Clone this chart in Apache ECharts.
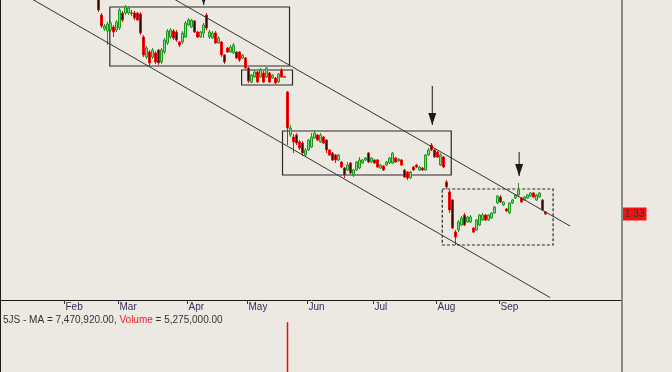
<!DOCTYPE html>
<html><head><meta charset="utf-8">
<script src="https://cdn.jsdelivr.net/npm/echarts@6/dist/echarts.min.js"></script>
<style>html,body{margin:0;padding:0;background:#ece9e3;}#c{width:672px;height:372px;}</style>
</head><body><div id="c"></div>
<script>
// ---- axis slots (trading days) and month tick labels ----
const slotCount = 207;
const monthNames = ['Feb','Mar','Apr','May','Jun','Jul','Aug','Sep'];
const monthSlots = [21, 39, 62, 82, 102, 124, 145, 166];

// ---- OHLC data, first candle at slot 32 ----
const firstSlot = 32;
const open = [
 2.425,2.325,2.255,2.245,2.25,2.265,2.25,2.26,2.335,2.335,
 2.335,2.336,2.335,2.335,2.33,2.215,2.115,2.14,2.115,2.135,
 2.15,2.09,2.14,2.185,2.215,2.245,2.24,2.19,2.19,2.215,
 2.275,2.265,2.295,2.24,2.215,2.235,2.325,2.215,2.21,2.235,
 2.185,2.19,2.125,2.16,2.14,2.135,2.14,2.14,2.11,2.11,
 2.06,1.99,2.015,2.04,2.015,2.035,2.015,2.035,2.01,2.01,
 1.99,2.05,2.016,
 1.94,1.725,1.715,1.725,1.69,1.685,1.625,1.65,1.665,1.71,
 1.725,1.69,1.715,1.70,1.65,1.635,1.625,1.60,1.59,1.56,
 1.55,1.585,1.525,1.55,1.56,1.585,1.60,1.635,1.59,1.60,
 1.60,1.56,1.57,1.575,1.585,1.585,1.61,1.595,1.60,1.55,
 1.54,1.51,1.565,1.575,1.55,1.56,1.55,1.625,1.675,1.65,
 1.64,1.575,1.615,
 1.49,1.44,1.40,1.24,1.25,1.275,1.325,1.29,1.29,1.26,
 1.25,1.275,1.30,1.325,1.30,1.31,1.335,1.385,1.415,1.375,
 1.355,1.335,1.385,1.41,1.425,1.41,1.40,1.41,1.42,1.435,
 1.40,1.415,1.40,1.34];
const close = [
 2.35,2.27,2.27,2.28,2.285,2.24,2.29,2.35,2.30,2.365,
 2.36,2.334,2.31,2.30,2.235,2.125,2.16,2.085,2.15,2.09,
 2.085,2.15,2.20,2.245,2.25,2.21,2.20,2.175,2.235,2.285,
 2.30,2.30,2.24,2.215,2.24,2.275,2.26,2.24,2.235,2.185,
 2.21,2.125,2.09,2.14,2.165,2.175,2.11,2.10,2.125,2.06,
 1.995,2.025,2.04,1.99,2.05,1.99,2.06,1.99,2.025,1.985,
 2.03,2.015,2.014,
 1.76,1.76,1.69,1.685,1.66,1.635,1.65,1.70,1.715,1.735,
 1.70,1.725,1.685,1.65,1.625,1.60,1.60,1.625,1.565,1.525,
 1.575,1.535,1.55,1.59,1.60,1.60,1.61,1.59,1.61,1.585,
 1.565,1.575,1.55,1.59,1.61,1.635,1.59,1.605,1.575,1.515,
 1.51,1.54,1.55,1.565,1.565,1.55,1.625,1.65,1.65,1.615,
 1.615,1.625,1.565,
 1.465,1.35,1.26,1.215,1.29,1.31,1.275,1.315,1.315,1.24,
 1.30,1.325,1.325,1.30,1.325,1.335,1.365,1.42,1.39,1.39,
 1.345,1.385,1.40,1.425,1.45,1.39,1.415,1.425,1.435,1.415,
 1.425,1.435,1.35,1.33];
const low = [
 2.34,2.26,2.245,2.175,2.24,2.215,2.24,2.25,2.29,2.325,
 2.325,2.32,2.30,2.295,2.225,2.115,2.105,2.065,2.105,2.08,
 2.075,2.08,2.13,2.175,2.205,2.20,2.19,2.165,2.18,2.21,
 2.27,2.26,2.235,2.21,2.21,2.21,2.25,2.205,2.205,2.18,
 2.18,2.115,2.08,2.135,2.135,2.13,2.105,2.09,2.105,2.055,
 1.985,1.985,2.01,1.985,2.01,1.985,2.01,1.985,2.005,1.98,
 1.985,2.01,2.01,
 1.675,1.715,1.635,1.675,1.65,1.62,1.615,1.645,1.66,1.705,
 1.695,1.685,1.68,1.635,1.62,1.595,1.585,1.595,1.56,1.51,
 1.545,1.53,1.515,1.545,1.555,1.58,1.595,1.585,1.585,1.58,
 1.56,1.555,1.545,1.57,1.58,1.58,1.585,1.59,1.57,1.51,
 1.50,1.505,1.545,1.56,1.545,1.545,1.545,1.62,1.645,1.61,
 1.61,1.57,1.56,
 1.455,1.335,1.255,1.175,1.24,1.27,1.27,1.285,1.285,1.235,
 1.245,1.27,1.295,1.295,1.295,1.305,1.33,1.38,1.385,1.37,
 1.34,1.33,1.38,1.405,1.42,1.385,1.395,1.405,1.415,1.41,
 1.395,1.41,1.345,1.325];
const high = [
 2.44,2.335,2.28,2.29,2.295,2.275,2.30,2.36,2.345,2.375,
 2.37,2.35,2.345,2.34,2.34,2.225,2.17,2.15,2.16,2.145,
 2.155,2.16,2.21,2.255,2.26,2.255,2.25,2.195,2.245,2.295,
 2.31,2.305,2.30,2.245,2.245,2.285,2.335,2.25,2.245,2.245,
 2.22,2.195,2.13,2.165,2.175,2.185,2.145,2.145,2.13,2.115,
 2.065,2.03,2.05,2.045,2.06,2.045,2.065,2.04,2.03,2.015,
 2.035,2.06,2.02,
 1.945,1.775,1.73,1.735,1.70,1.695,1.66,1.705,1.735,1.75,
 1.73,1.735,1.72,1.705,1.655,1.64,1.63,1.63,1.595,1.565,
 1.59,1.59,1.555,1.595,1.615,1.605,1.615,1.64,1.615,1.605,
 1.605,1.58,1.575,1.595,1.615,1.64,1.615,1.61,1.605,1.555,
 1.545,1.545,1.57,1.58,1.57,1.565,1.63,1.66,1.685,1.655,
 1.645,1.635,1.62,
 1.50,1.45,1.405,1.25,1.30,1.32,1.335,1.32,1.325,1.265,
 1.305,1.33,1.335,1.33,1.33,1.34,1.37,1.425,1.425,1.395,
 1.36,1.39,1.405,1.43,1.485,1.415,1.42,1.43,1.44,1.44,
 1.43,1.44,1.405,1.345];

// ---- volume (only the bars that reach the visible pane) ----
const volumeSlots = [95, 181];
const volumeValues = [47800000, 5275000];
const volumeMA = 7470920;
const lastVolume = 5275000;
const ticker = '5JS';

// ---- drawn annotations, in data space: [daySlot, price] ----
const trendLines = [
  [[0, 2.494], [183.03, 0.9125]],
  [[46.59, 2.50], [189.68, 1.27]]
];
const boxes = [ // [x1, p1, x2, p2, dashed]
  [36.27, 2.365, 96.17, 2.07, false],
  [80.2, 2.05, 97.17, 1.975, false],
  [93.84, 1.745, 150.08, 1.525, false],
  [147.09, 1.455, 184.03, 1.175, true]
];
const arrows = [ // [x, fromPrice, toPrice]
  [67.55, 2.60, 2.375],
  [143.76, 1.97, 1.775],
  [172.71, 1.64, 1.52]
];

// ---- build ----
const catLabels = new Array(slotCount).fill('');
monthSlots.forEach((s, i) => { catLabels[s] = monthNames[i]; });
const candles = open.map((o, i) => [firstSlot + i, o, close[i], low[i], high[i]]);
const volumes = volumeSlots.map((s, i) => [s, volumeValues[i]]);
const lastClose = close[close.length - 1];
const fmt = v => v.toLocaleString('en-US', {minimumFractionDigits: 2, maximumFractionDigits: 2});
const FONT = '"Liberation Sans", Arial, sans-serif';

const annoSeries = [];
trendLines.forEach((l, i) => {
  const s = {type: 'line', xAxisIndex: 2, yAxisIndex: 0, data: l, symbol: 'none', silent: true,
    lineStyle: {color: '#333', width: 1}, z: 5};
  if (i === 0) {
    s.markArea = {silent: true, data: boxes.map(b => [
      {coord: [b[0], b[1]], itemStyle: {color: 'rgba(0,0,0,0)', borderColor: '#2a2a2a', borderWidth: 1.2, borderType: b[4] ? [3, 2] : 'solid'}},
      {coord: [b[2], b[3]]}
    ])};
  }
  annoSeries.push(s);
});
arrows.forEach(a => {
  annoSeries.push({type: 'line', xAxisIndex: 2, yAxisIndex: 0, silent: true, symbol: 'none', z: 6,
    lineStyle: {color: '#1a1a1a', width: 1},
    data: [[a[0], a[1]], {value: [a[0], a[2]], symbol: 'triangle', symbolSize: [8, 12], symbolRotate: 180,
      symbolOffset: [0, -6], itemStyle: {color: '#1a1a1a'}}]});
});

const chart = echarts.init(document.getElementById('c'), null, {renderer: 'canvas'});
chart.setOption({
  backgroundColor: '#ece9e3',
  animation: false,
  grid: [
    {left: 1, right: 50, top: 0, bottom: 72, outerBoundsMode: 'none', containLabel: false},
    {left: 1, right: 50, top: 313, height: 209, outerBoundsMode: 'none', containLabel: false}
  ],
  xAxis: [
    {type: 'category', gridIndex: 0, data: catLabels, boundaryGap: true,
     axisLine: {lineStyle: {color: '#1a1a1a', width: 1}},
     axisTick: {show: true, length: 4, interval: (i, v) => v !== '', lineStyle: {color: '#333'}},
     axisLabel: {interval: 0, align: 'left', margin: 2, fontSize: 10, color: '#3b2d5e', fontFamily: FONT},
     splitLine: {show: false}},
    {type: 'category', gridIndex: 1, data: catLabels, position: 'top', boundaryGap: true,
     axisLine: {lineStyle: {color: '#1a1a1a', width: 1}},
     axisTick: {show: false}, axisLabel: {show: false}, splitLine: {show: false}},
    {type: 'value', gridIndex: 0, min: 0, max: slotCount, show: false}
  ],
  yAxis: [
    {type: 'value', gridIndex: 0, min: 0.90, max: 2.40, position: 'right',
     axisLine: {show: false}, axisTick: {show: false}, axisLabel: {show: false}, splitLine: {show: false}},
    {type: 'value', gridIndex: 1, min: 0, max: 50000000, show: false, splitLine: {show: false}}
  ],
  series: [
    {type: 'candlestick', xAxisIndex: 0, yAxisIndex: 0, data: candles,
     encode: {x: 0, y: [1, 2, 3, 4]}, barWidth: 3, clip: true, silent: true,
     itemStyle: {color: '#86d486', borderColor: '#1f9a1f', color0: '#3a0000', borderColor0: '#ee1010', borderWidth: 1},
     markLine: {silent: true, symbol: 'none', data: [{yAxis: lastClose}],
       lineStyle: {color: 'rgba(0,0,0,0)', width: 0},
       label: {show: true, position: 'end', distance: 1, formatter: () => lastClose.toFixed(2),
         backgroundColor: '#ff1010', color: '#333', fontSize: 10, fontFamily: FONT, padding: [2, 2, 1, 2]}}},
    {type: 'bar', xAxisIndex: 1, yAxisIndex: 1, data: volumes, barWidth: 1.5, silent: true,
     itemStyle: {color: '#ff0000'}},
    ...annoSeries
  ],
  graphic: [
    {type: 'line', shape: {x1: 0.5, y1: 0, x2: 0.5, y2: 372}, style: {stroke: '#1a1a1a', lineWidth: 1}, z: 100, silent: true},
    {type: 'line', shape: {x1: 622, y1: 0, x2: 622, y2: 372}, style: {stroke: '#8a8a8a', lineWidth: 2}, z: 100, silent: true},
    {type: 'text', left: 3, top: 315, z: 100, silent: true, style: {
      text: '{a|' + ticker + ' - MA = ' + fmt(volumeMA) + ', }{r|Volume}{a| = ' + fmt(lastVolume) + '}',
      rich: {a: {fill: '#333', color: '#333', fontSize: 10, fontFamily: FONT},
             r: {fill: '#ee2222', color: '#ee2222', fontSize: 10, fontFamily: FONT}}}}
  ]
});
</script></body></html>
